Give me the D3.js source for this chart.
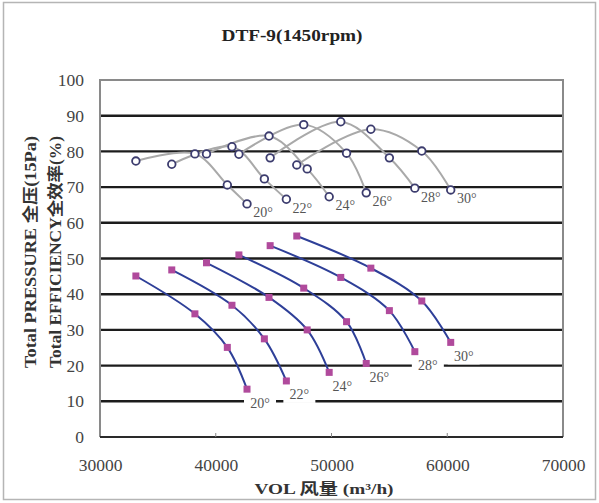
<!DOCTYPE html>
<html><head><meta charset="utf-8">
<script src="https://cdn.jsdelivr.net/npm/d3@7/dist/d3.min.js"></script>
<style>body{margin:0;background:#fff}svg{display:block}</style>
</head><body>
<script>
// ---- data ----
const angles = ["20°","22°","24°","26°","28°","30°"];
const volumes = [
  [33100, 38200, 41000, 42700],
  [36200, 41400, 44200, 46100],
  [39200, 44600, 47900, 49800],
  [42000, 47600, 51300, 53000],
  [44700, 50800, 55000, 57200],
  [47000, 53400, 57800, 60300]
];
const pressures = [
  [45.1, 34.5, 25.1, 13.4],
  [46.8, 36.9, 27.5, 15.7],
  [48.8, 39.1, 30.0, 18.1],
  [51.0, 41.7, 32.3, 20.6],
  [53.6, 44.7, 35.4, 23.9],
  [56.3, 47.3, 38.1, 26.5]
];
const efficiencies = [
  [77.3, 79.3, 70.6, 65.3],
  [76.4, 81.3, 72.3, 66.6],
  [79.3, 84.3, 75.1, 67.3],
  [79.2, 87.5, 79.5, 68.4],
  [78.2, 88.3, 78.2, 69.7],
  [76.2, 86.2, 80.1, 69.2]
];
const xTicks = [30000, 40000, 50000, 60000, 70000];
const yTicks = [0, 10, 20, 30, 40, 50, 60, 70, 80, 90, 100];
const title = "DTF-9(1450rpm)";
const yTitle1 = "Total PRESSURE 全压(15Pa)";
const yTitle2 = "Total EFFICIENCY全效率(%)";
const xTitle = "VOL 风量 (m³/h)";

// ---- layout ----
const W = 599, H = 503;
const L = 100, R = 563, T = 80, B = 437;
const serif = "'Liberation Serif','DejaVu Serif','Noto Sans CJK SC',serif";

const svg = d3.select("body").append("svg").attr("width", W).attr("height", H);
svg.append("rect").attr("width", W).attr("height", H).attr("fill", "#fff");
svg.append("rect").attr("x", 3.5).attr("y", 2.5).attr("width", 592).attr("height", 497)
  .attr("fill", "none").attr("stroke", "#b5b5b5").attr("stroke-width", 1.5);

const x = d3.scaleLinear().domain([30000, 70000]).range([L, R]);
const y = d3.scaleLinear().domain([0, 100]).range([B, T]);

// gridlines
svg.append("g").selectAll("line").data(yTicks.filter(v => v > 0 && v < 100)).join("line")
  .attr("x1", L).attr("x2", R).attr("y1", d => y(d)).attr("y2", d => y(d))
  .attr("stroke", "#1c1c1c").attr("stroke-width", 2.4);

// frame
svg.append("path")
  .attr("d", `M${L},${B}V${T}H${R}V${B}`)
  .attr("fill", "none").attr("stroke", "#8a8a8a").attr("stroke-width", 2);
svg.append("line").attr("x1", L).attr("x2", R).attr("y1", B).attr("y2", B)
  .attr("stroke", "#2a2a2a").attr("stroke-width", 2);

// axes
const xAxis = d3.axisBottom(x).tickValues(xTicks).tickSize(0).tickPadding(22).tickFormat(d3.format("d"));
const gx = svg.append("g").attr("transform", `translate(0,${B})`).call(xAxis);
gx.select(".domain").remove();
gx.selectAll("text").attr("font-family", serif).attr("font-size", 17.5).attr("fill", "#444");
svg.append("g").selectAll("line").data(xTicks.slice(1, -1)).join("line")
  .attr("x1", d => x(d)).attr("x2", d => x(d)).attr("y1", B).attr("y2", B - 4)
  .attr("stroke", "#888").attr("stroke-width", 1);

const yAxis = d3.axisLeft(y).tickValues(yTicks).tickSize(0).tickPadding(16);
const gy = svg.append("g").attr("transform", `translate(${L},0)`).call(yAxis);
gy.select(".domain").remove();
gy.selectAll("text").attr("font-family", serif).attr("font-size", 17.5).attr("fill", "#444");

// titles
svg.append("text").attr("x", 292).attr("y", 35).attr("text-anchor", "middle")
  .attr("dominant-baseline", "central").attr("font-family", serif).attr("font-weight", "bold")
  .attr("font-size", 16).attr("fill", "#222").attr("textLength", 141).attr("lengthAdjust", "spacingAndGlyphs")
  .text(title);
[[yTitle1, 30], [yTitle2, 55]].forEach(([t, cx]) => {
  svg.append("text").attr("transform", `translate(${cx},252) rotate(-90)`)
    .attr("text-anchor", "middle").attr("dominant-baseline", "central")
    .attr("font-family", serif).attr("font-weight", "bold").attr("font-size", 16).attr("fill", "#333")
    .attr("textLength", 232).attr("lengthAdjust", "spacingAndGlyphs").text(t);
});
svg.append("text").attr("x", 324).attr("y", 489).attr("text-anchor", "middle")
  .attr("dominant-baseline", "central").attr("font-family", serif).attr("font-weight", "bold")
  .attr("font-size", 15).attr("fill", "#333").attr("textLength", 139).attr("lengthAdjust", "spacingAndGlyphs")
  .text(xTitle);

// series
const series = angles.map((a, i) => ({
  angle: a,
  p: volumes[i].map((v, j) => [v, pressures[i][j]]),
  e: volumes[i].map((v, j) => [v, efficiencies[i][j]])
}));
const line = d3.line().x(d => x(d[0])).y(d => y(d[1])).curve(d3.curveCatmullRom.alpha(0.5));

// label backgrounds (mask gridlines)
const pOff = [13, 14], eOff = [16, 9];
const bg = svg.append("g");
series.forEach(s => {
  const pe = s.p[s.p.length - 1];
  bg.append("rect").attr("x", x(pe[0]) + pOff[0] - 16).attr("y", y(pe[1]) + pOff[1] - 8)
    .attr("width", 32).attr("height", 16).attr("fill", "#fff");
});

// efficiency curves
svg.append("g").selectAll("path").data(series).join("path")
  .attr("d", s => line(s.e)).attr("fill", "none").attr("stroke", "#a9a9a9").attr("stroke-width", 2);
// pressure curves
svg.append("g").selectAll("path").data(series).join("path")
  .attr("d", s => line(s.p)).attr("fill", "none").attr("stroke", "#2e3f98").attr("stroke-width", 2);

// markers
svg.append("g").selectAll("circle").data(series.flatMap(s => s.e)).join("circle")
  .attr("cx", d => x(d[0])).attr("cy", d => y(d[1])).attr("r", 3.8)
  .attr("fill", "#fff").attr("stroke", "#3c3c6e").attr("stroke-width", 1.8);
svg.append("g").selectAll("rect").data(series.flatMap(s => s.p)).join("rect")
  .attr("x", d => x(d[0]) - 3.5).attr("y", d => y(d[1]) - 3.5).attr("width", 7).attr("height", 7)
  .attr("fill", "#b04a9c");

// angle labels
const lab = svg.append("g").attr("font-family", serif).attr("font-size", 14).attr("fill", "#555")
  .attr("text-anchor", "middle").attr("dominant-baseline", "central");
series.forEach(s => {
  const pe = s.p[s.p.length - 1], ee = s.e[s.e.length - 1];
  lab.append("text").attr("x", x(pe[0]) + pOff[0]).attr("y", y(pe[1]) + pOff[1]).text(s.angle);
  lab.append("text").attr("x", x(ee[0]) + eOff[0]).attr("y", y(ee[1]) + eOff[1]).text(s.angle);
});
</script>
</body></html>
